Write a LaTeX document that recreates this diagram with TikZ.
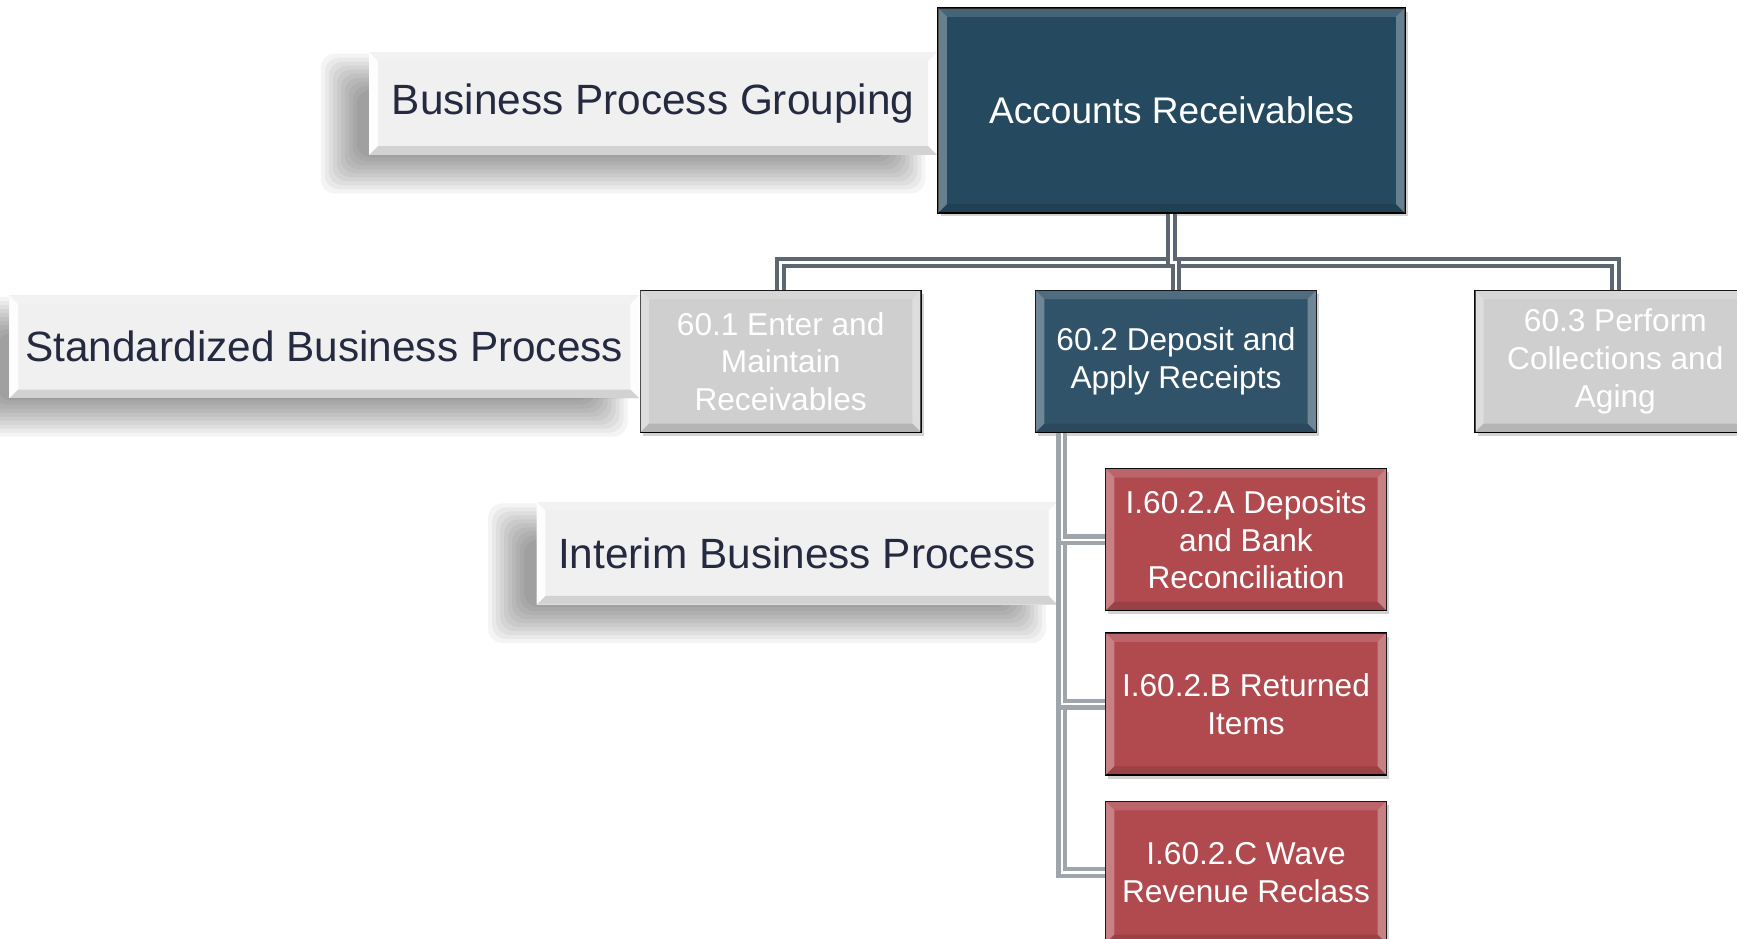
\documentclass[tikz,border=0pt]{standalone}
\usepackage{fontspec}
\setmainfont{Liberation Sans}
\usetikzlibrary{positioning,calc,shadows,backgrounds}

\definecolor{arblue}{HTML}{254A60}
\definecolor{depblue}{HTML}{31536A}
\definecolor{offgray}{HTML}{CFCFCF}
\definecolor{intred}{HTML}{B04A4F}
\definecolor{lblfill}{HTML}{F0F0F0}
\definecolor{lbltext}{HTML}{252A40}
\definecolor{linkdark}{HTML}{5D6774}
\definecolor{linklight}{HTML}{9EA5AD}

\pgfdeclarelayer{bottom}
\pgfsetlayers{bottom,background,main}

\begin{document}
\begin{tikzpicture}[x=0.02cm,y=-0.02cm,
    bevel/.style={postaction={path picture={
      \path (path picture bounding box.north west) coordinate (bnw)
            (path picture bounding box.south east) coordinate (bse);
      \fill[white,opacity=#1] (bnw) -- ++(5pt,-5pt) -- ($(bnw|-bse)+(5pt,5pt)$) -- (bnw|-bse) -- cycle;
      \fill[white,opacity=#1] (bse|-bnw) -- ++(-5pt,-5pt) -- ($(bse)+(-5pt,5pt)$) -- (bse) -- cycle;
      \fill[white,opacity=.15] (bnw) -- ++(5pt,-5pt) -- ($(bse|-bnw)+(-5pt,-5pt)$) -- (bse|-bnw) -- cycle;
      \fill[black,opacity=.12] (bnw|-bse) -- ++(5pt,5pt) -- ($(bse)+(-5pt,5pt)$) -- (bse) -- cycle;
    }}},
    bevel/.default=0.3,
    box/.style={draw=black,line width=0.8pt,minimum width=5.62cm,minimum height=2.84cm,
      align=center,text=white,font=\fontsize{18}{21.4}\selectfont,bevel,
      drop shadow={shadow xshift=1.5pt,shadow yshift=-2pt,opacity=.35}},
    lbl/.style={fill=lblfill,minimum height=2.06cm,text=lbltext,
      font=\fontsize{24.1}{29}\selectfont,bevel=0.9},
    link/.style={draw=linkdark,line width=2.4pt,double=white,double distance=1.4pt},
    sublink/.style={draw=linklight,line width=2.4pt,double=white,double distance=1.4pt}]

  \useasboundingbox (0,0) rectangle (1737,939);

  \node[box,fill=arblue,minimum width=9.34cm,minimum height=4.1cm,
        font=\fontsize{21.1}{25}\selectfont] (ar) at (1171.5,110.5) {Accounts Receivables};
  \node[box,fill=depblue] (p2) [below=1.52cm of ar,xshift=0.09cm] {60.2 Deposit and\\Apply Receipts};
  \node[box,fill=offgray] (p1) [left=2.26cm of p2] {60.1 Enter and\\Maintain\\Receivables};
  \node[box,fill=offgray] (p3) [right=3.14cm of p2] {60.3 Perform\\Collections and\\Aging};
  \node[box,fill=intred] (ia) [below=0.7cm of p2,xshift=1.4cm] {I.60.2.A Deposits\\and Bank\\Reconciliation};
  \node[box,fill=intred] (ib) [below=0.42cm of ia] {I.60.2.B Returned\\Items};
  \node[box,fill=intred] (ic) [below=0.5cm of ib] {I.60.2.C Wave\\Revenue Reclass};

  \begin{scope}[on background layer]
    \node[lbl,minimum width=11.36cm] (grp) [left=0cm of ar,yshift=0.14cm] {Business Process Grouping};
    \node[lbl,minimum width=12.6cm] (std) [left=0cm of p1,yshift=0.29cm] {Standardized Business Process};
    \node[lbl,minimum width=10.42cm] (itm) [left=0.94cm of ia,yshift=-0.27cm] {Interim Business Process};
  \end{scope}

  \begin{pgfonlayer}{bottom}
    \fill[white] (0,0) rectangle (1737,939);
    \foreach \n in {grp,std,itm}
      \foreach \i in {0,...,9}
        \fill[black,opacity=.045,rounded corners=8pt]
          ($(\n.north west)+(-48+4*\i,2+4*\i)$) rectangle ($(\n.south east)+(-12-4*\i,38-4*\i)$);
  \end{pgfonlayer}

  \draw[link] (ar.south) -- ++(0,49) -| (p1.north);
  \draw[link] (ar.south) -- ++(0,49) -| (p3.north);
  \draw[link] (ar.south) -- ++(0,49) -| (p2.north);

  \coordinate (trunk) at ($(p2.south west)+(27,0)$);
  \draw[sublink] (trunk) |- (ic.west);
  \draw[sublink] (trunk) |- (ib.west);
  \draw[sublink] (trunk) |- (ia.west);
\end{tikzpicture}
\end{document}
